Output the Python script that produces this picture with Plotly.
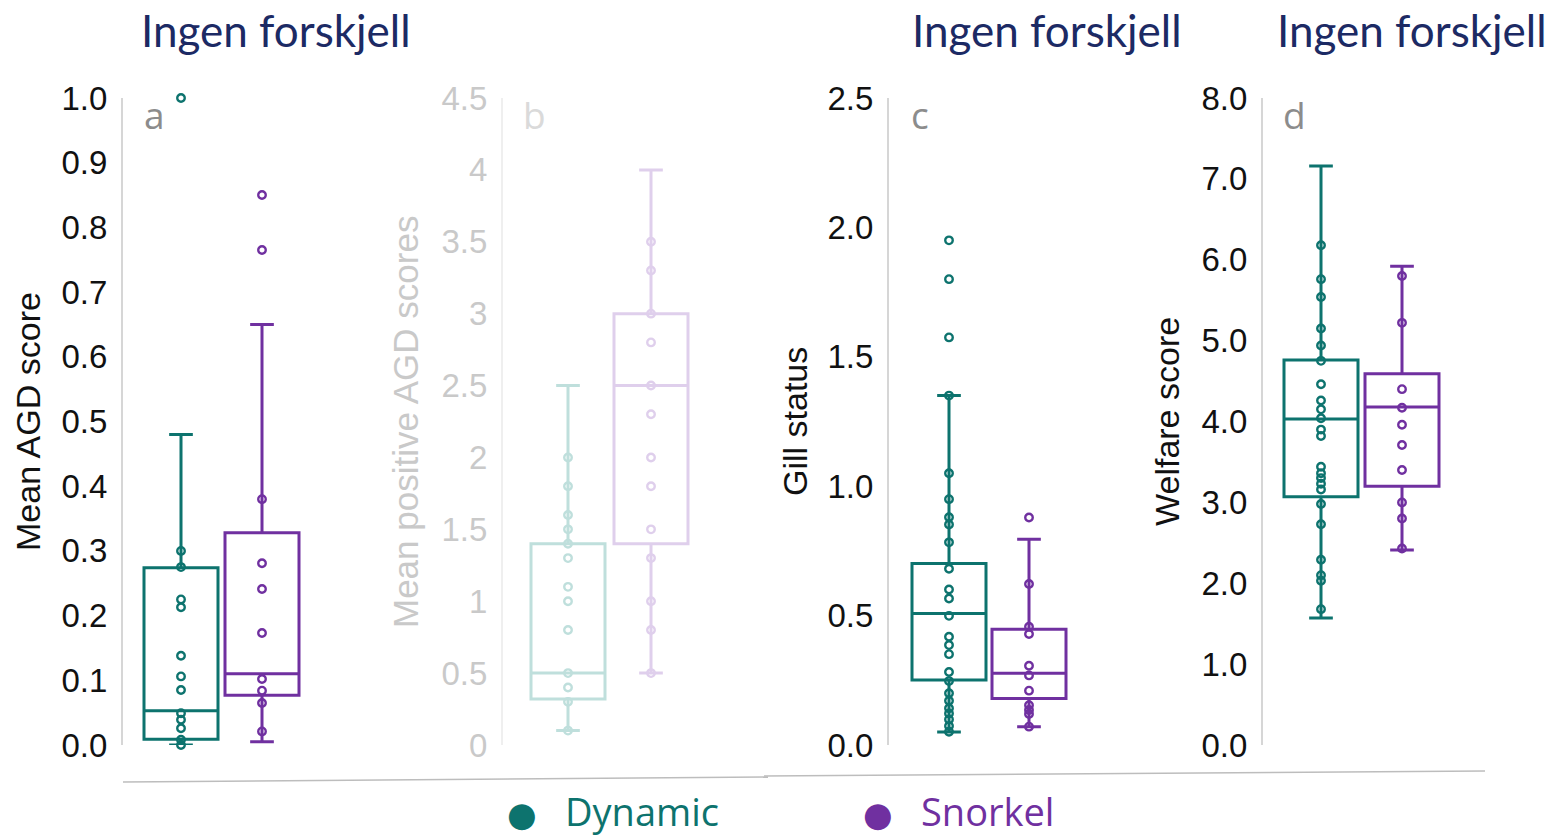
import plotly.graph_objects as go

# ---------------- data ----------------
groups = ["Dynamic", "Snorkel"]

# a: mean AGD score
a_dyn_points = [1.0, 0.30, 0.275, 0.225, 0.213, 0.138, 0.106, 0.085, 0.049, 0.039, 0.026, 0.008, 0.0]
a_sno_points = [0.85, 0.765, 0.38, 0.281, 0.241, 0.173, 0.102, 0.084, 0.065, 0.021]
a_dyn_box = dict(q1=0.009, median=0.053, q3=0.274, lo=0.0, hi=0.48)
a_sno_box = dict(q1=0.077, median=0.110, q3=0.328, lo=0.005, hi=0.65)

# b: mean positive AGD scores
b_dyn_points = [2.0, 1.8, 1.6, 1.5, 1.4, 1.3, 1.1, 1.0, 0.8, 0.5, 0.4, 0.3, 0.1]
b_sno_points = [3.5, 3.3, 3.0, 2.8, 2.5, 2.3, 2.0, 1.8, 1.5, 1.3, 1.0, 0.8, 0.5]
b_dyn_box = dict(q1=0.32, median=0.5, q3=1.4, lo=0.1, hi=2.5)
b_sno_box = dict(q1=1.4, median=2.5, q3=3.0, lo=0.5, hi=4.0)

# c: gill status
c_dyn_points = [1.95, 1.80, 1.575, 1.35, 1.05, 0.95, 0.88, 0.852, 0.783, 0.681, 0.601, 0.566,
                0.499, 0.418, 0.386, 0.351, 0.282, 0.247, 0.20, 0.171, 0.142, 0.122, 0.099, 0.073, 0.051]
c_sno_points = [0.879, 0.622, 0.457, 0.429, 0.306, 0.269, 0.21, 0.154, 0.135, 0.12, 0.071]
c_dyn_box = dict(q1=0.251, median=0.508, q3=0.701, lo=0.05, hi=1.35)
c_sno_box = dict(q1=0.18, median=0.277, q3=0.447, lo=0.071, hi=0.795)

# d: welfare score
d_dyn_points = [6.18, 5.76, 5.54, 5.15, 4.94, 4.75, 4.46, 4.26, 4.15, 4.04, 3.90, 3.82,
                3.44, 3.36, 3.30, 3.23, 3.16, 2.98, 2.73, 2.29, 2.10, 2.03, 1.68]
d_sno_points = [5.80, 5.22, 4.40, 4.17, 3.96, 3.71, 3.40, 3.0, 2.80, 2.43]
d_dyn_box = dict(q1=3.07, median=4.03, q3=4.76, lo=1.57, hi=7.16)
d_sno_box = dict(q1=3.20, median=4.18, q3=4.59, lo=2.41, hi=5.92)

y_titles = ["Mean AGD score", "Mean positive AGD scores", "Gill status", "Welfare score"]
panel_letters = ["a", "b", "c", "d"]
header_text = "Ingen forskjell"

# ---------------- styling ----------------
W, H = 1556, 839
TEAL, PURPLE = "#0d736e", "#7030a0"
TEAL_FADED, PURPLE_FADED = "#bfdfdc", "#dfcfec"
NAVY = "#1c2a64"

# pixel layout of each panel: axis line x, offset of first box centre, px per category unit
panels = [
    dict(L=123, off=58, ppu=81, ymax=1.0, dtick=0.1, fmt=".1f",
         data=(a_dyn_points, a_sno_points, a_dyn_box, a_sno_box), faded=False),
    dict(L=503, off=65, ppu=83, ymax=4.5, dtick=0.5, fmt="",
         data=(b_dyn_points, b_sno_points, b_dyn_box, b_sno_box), faded=True),
    dict(L=889, off=60, ppu=80, ymax=2.5, dtick=0.5, fmt=".1f",
         data=(c_dyn_points, c_sno_points, c_dyn_box, c_sno_box), faded=False),
    dict(L=1263, off=58, ppu=81, ymax=8.0, dtick=1.0, fmt=".1f",
         data=(d_dyn_points, d_sno_points, d_dyn_box, d_sno_box), faded=False),
]

Y0_PX, YTOP_PX = 745, 98
y_dom = [1 - Y0_PX / H, 1 - YTOP_PX / H]
PANEL_W = 250
BOX_PX = 74

fig = go.Figure()
layout = dict(
    width=W, height=H, margin=dict(l=0, r=0, t=0, b=0, autoexpand=False),
    paper_bgcolor="white", plot_bgcolor="white", showlegend=False,
)
annotations = []
shapes = []

for i, p in enumerate(panels):
    n = "" if i == 0 else str(i + 1)
    xa, ya = "x" + n, "y" + n
    dyn_pts, sno_pts, dyn_box, sno_box = p["data"]
    cols = (TEAL_FADED, PURPLE_FADED) if p["faded"] else (TEAL, PURPLE)
    text_col = "#c9c9c9" if p["faded"] else "#111111"
    axis_col = "#efefef" if p["faded"] else "#d6d6d6"
    letter_col = "#dadada" if p["faded"] else "#8c8c8c"
    bw = BOX_PX / p["ppu"]

    for k, (box, pts) in enumerate(((dyn_box, dyn_pts), (sno_box, sno_pts))):
        fig.add_trace(go.Box(
            x=[k], q1=[box["q1"]], median=[box["median"]], q3=[box["q3"]],
            lowerfence=[box["lo"]], upperfence=[box["hi"]],
            width=bw, whiskerwidth=0.32, boxpoints=False,
            line=dict(color=cols[k], width=3), fillcolor="rgba(0,0,0,0)",
            name=groups[k], xaxis=xa, yaxis=ya, hoverinfo="skip",
        ))
        fig.add_trace(go.Scatter(
            x=[k] * len(pts), y=pts, mode="markers", name=groups[k],
            marker=dict(symbol="circle-open", size=7.5, color=cols[k],
                        line=dict(width=2.4, color=cols[k])),
            xaxis=xa, yaxis=ya, cliponaxis=False,
        ))

    x0 = p["L"] / W
    x1 = (p["L"] + PANEL_W) / W
    layout["xaxis" + n] = dict(
        domain=[x0, x1], anchor=ya, automargin=False,
        range=[-p["off"] / p["ppu"], (PANEL_W - p["off"]) / p["ppu"]],
        visible=False, fixedrange=True,
    )
    ticks = [round(j * p["dtick"], 3) for j in range(int(round(p["ymax"] / p["dtick"])) + 1)]
    layout["yaxis" + n] = dict(
        domain=y_dom, anchor=xa, range=[0, p["ymax"]], automargin=False,
        tickvals=ticks, tickformat=p["fmt"],
        showgrid=False, zeroline=False, showline=True,
        linecolor=axis_col, linewidth=2, ticks="",
        ticklabelstandoff=7,
        tickfont=dict(family="Liberation Sans, Arial, sans-serif", size=33, color=text_col),
    )
    # rotated axis title
    title_x = {0: 28, 1: 405, 2: 795, 3: 1167}[i]
    annotations.append(dict(
        text=y_titles[i], x=title_x / W, y=1 - 422 / H, xref="paper", yref="paper",
        xanchor="center", yanchor="middle", textangle=-90, showarrow=False,
        font=dict(family="Liberation Sans, Arial, sans-serif",
                  size=35 if p["faded"] else 34, color=text_col),
    ))
    # panel letter
    annotations.append(dict(
        text=panel_letters[i], x=(p["L"] + 31) / W, y=1 - 114 / H, xref="paper", yref="paper",
        xanchor="center", yanchor="middle", showarrow=False,
        font=dict(family="Open Sans, sans-serif", size=37, color=letter_col),
    ))

# headers above panels a, c and d
for cx in (276, 1047, 1412):
    annotations.append(dict(
        text=header_text, x=cx / W, y=1 - 30 / H, xref="paper", yref="paper",
        xanchor="center", yanchor="middle", showarrow=False,
        font=dict(family="Lato, sans-serif", size=44, color=NAVY),
    ))

# baseline rules under the panels
shapes.append(dict(type="line", xref="paper", yref="paper",
                   x0=123 / W, y0=1 - 782 / H, x1=768 / W, y1=1 - 777 / H,
                   line=dict(color="#bdbdbd", width=1.5)))
shapes.append(dict(type="line", xref="paper", yref="paper",
                   x0=764 / W, y0=1 - 776 / H, x1=1485 / W, y1=1 - 771 / H,
                   line=dict(color="#bdbdbd", width=1.5)))

# legend row
legend_items = [(groups[0], TEAL, 522), (groups[1], PURPLE, 878)]
for name, col, dot_x in legend_items:
    annotations.append(dict(
        text="●", x=dot_x / W, y=1 - 814 / H, xref="paper", yref="paper",
        xanchor="center", yanchor="middle", showarrow=False,
        font=dict(family="DejaVu Sans, sans-serif", size=34, color=col),
    ))
    annotations.append(dict(
        text=name, x=(dot_x + 41) / W, y=1 - 811 / H, xref="paper", yref="paper",
        xanchor="left", yanchor="middle", showarrow=False,
        font=dict(family="Open Sans, sans-serif", size=38, color=col),
    ))

layout["annotations"] = annotations
layout["shapes"] = shapes
fig.update_layout(**layout)
fig.write_html("out.html")
